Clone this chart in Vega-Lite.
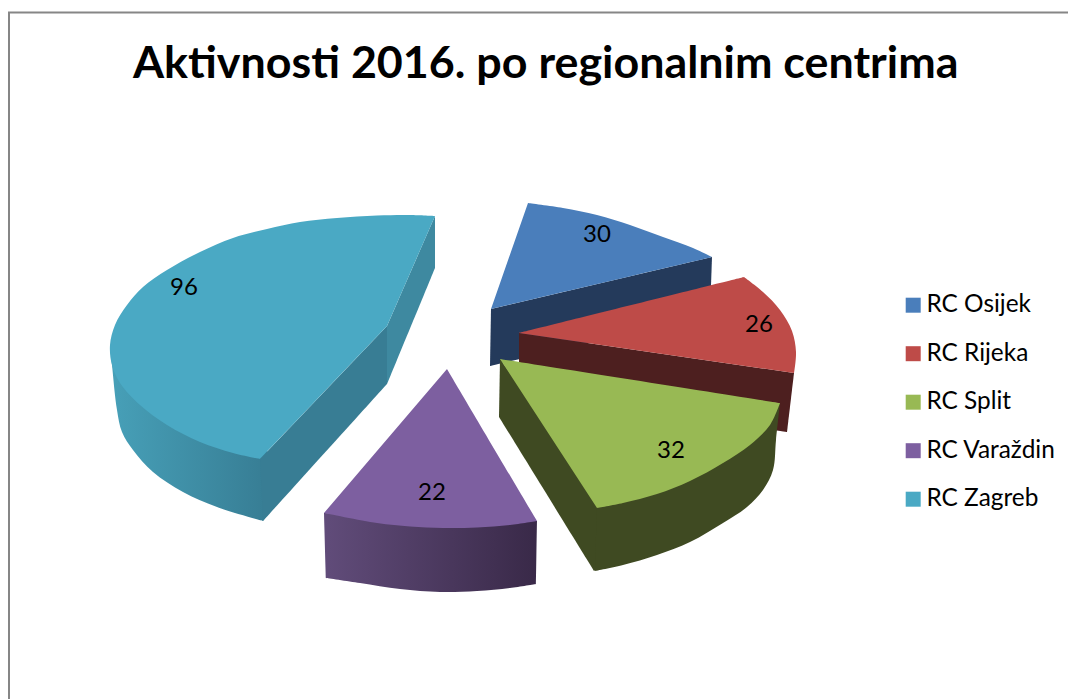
{
"$schema":"https://vega.github.io/schema/vega-lite/v6.json",
"width":1068,"height":699,"padding":0,"autosize":"none","background":"white",
"config":{"view":{"stroke":null}},
"title":{"text":"Aktivnosti 2016. po regionalnim centrima","font":"Lato","fontSize":44.8,"fontWeight":"bold","color":"#000000","anchor":"start","dx":133,"offset":-123,"baseline":"alphabetic"},
"datasets":{
"border":[{"i":0,"x":9,"y":699},{"i":1,"x":9,"y":12.5},{"i":2,"x":1068,"y":12.5}],
"slices":[
{"region":"RC Osijek","value":30,"lx":597,"ly":233},
{"region":"RC Rijeka","value":26,"lx":759,"ly":323},
{"region":"RC Split","value":32,"lx":671,"ly":449},
{"region":"RC Varaždin","value":22,"lx":432,"ly":491},
{"region":"RC Zagreb","value":96,"lx":184,"ly":286}],
"outline":[
{"part":"Zagreb rim","i":0,"x":110,"y":345},{"part":"Zagreb rim","i":1,"x":112,"y":365},{"part":"Zagreb rim","i":2,"x":117,"y":410},{"part":"Zagreb rim","i":3,"x":122,"y":432},{"part":"Zagreb rim","i":4,"x":133,"y":450},{"part":"Zagreb rim","i":5,"x":153,"y":472},{"part":"Zagreb rim","i":6,"x":183,"y":492},{"part":"Zagreb rim","i":7,"x":217,"y":507},{"part":"Zagreb rim","i":8,"x":263,"y":521},{"part":"Zagreb rim","i":9,"x":263,"y":521},{"part":"Zagreb rim","i":10,"x":268,"y":514},{"part":"Zagreb rim","i":11,"x":268,"y":514},{"part":"Zagreb rim","i":12,"x":268,"y":452},
{"part":"Varaždin rim","i":0,"x":324,"y":513},{"part":"Varaždin rim","i":1,"x":326,"y":578},{"part":"Varaždin rim","i":2,"x":326,"y":578},{"part":"Varaždin rim","i":3,"x":360,"y":583},{"part":"Varaždin rim","i":4,"x":400,"y":589},{"part":"Varaždin rim","i":5,"x":440,"y":592},{"part":"Varaždin rim","i":6,"x":477,"y":591},{"part":"Varaždin rim","i":7,"x":510,"y":588},{"part":"Varaždin rim","i":8,"x":536,"y":584},{"part":"Varaždin rim","i":9,"x":536,"y":584},{"part":"Varaždin rim","i":10,"x":537,"y":521},
{"part":"Zagreb cut A","i":0,"x":435,"y":216},{"part":"Zagreb cut A","i":1,"x":435,"y":268},{"part":"Zagreb cut A","i":2,"x":435,"y":268},{"part":"Zagreb cut A","i":3,"x":387,"y":384},{"part":"Zagreb cut A","i":4,"x":387,"y":384},{"part":"Zagreb cut A","i":5,"x":387,"y":326},
{"part":"Zagreb cut B","i":0,"x":387,"y":326},{"part":"Zagreb cut B","i":1,"x":387,"y":384},{"part":"Zagreb cut B","i":2,"x":387,"y":384},{"part":"Zagreb cut B","i":3,"x":263,"y":521},{"part":"Zagreb cut B","i":4,"x":263,"y":521},{"part":"Zagreb cut B","i":5,"x":260,"y":459},
{"part":"RC Zagreb","i":0,"x":435,"y":216},{"part":"RC Zagreb","i":1,"x":410,"y":215},{"part":"RC Zagreb","i":2,"x":377,"y":215.5},{"part":"RC Zagreb","i":3,"x":337,"y":218},{"part":"RC Zagreb","i":4,"x":300,"y":222},{"part":"RC Zagreb","i":5,"x":267,"y":229},{"part":"RC Zagreb","i":6,"x":233,"y":238},{"part":"RC Zagreb","i":7,"x":200,"y":252},{"part":"RC Zagreb","i":8,"x":167,"y":270},{"part":"RC Zagreb","i":9,"x":143,"y":287},{"part":"RC Zagreb","i":10,"x":127,"y":305},{"part":"RC Zagreb","i":11,"x":115,"y":325},{"part":"RC Zagreb","i":12,"x":110,"y":345},{"part":"RC Zagreb","i":13,"x":112,"y":365},{"part":"RC Zagreb","i":14,"x":120,"y":383},{"part":"RC Zagreb","i":15,"x":140,"y":405},{"part":"RC Zagreb","i":16,"x":167,"y":425},{"part":"RC Zagreb","i":17,"x":200,"y":442},{"part":"RC Zagreb","i":18,"x":233,"y":453},{"part":"RC Zagreb","i":19,"x":260,"y":459},{"part":"RC Zagreb","i":20,"x":260,"y":459},{"part":"RC Zagreb","i":21,"x":387,"y":326},
{"part":"RC Varaždin","i":0,"x":447,"y":369},{"part":"RC Varaždin","i":1,"x":537,"y":521},{"part":"RC Varaždin","i":2,"x":537,"y":521},{"part":"RC Varaždin","i":3,"x":510,"y":525},{"part":"RC Varaždin","i":4,"x":477,"y":527.5},{"part":"RC Varaždin","i":5,"x":443,"y":528},{"part":"RC Varaždin","i":6,"x":410,"y":526.5},{"part":"RC Varaždin","i":7,"x":377,"y":523},{"part":"RC Varaždin","i":8,"x":324,"y":513},
{"part":"Osijek cut","i":0,"x":491,"y":309},{"part":"Osijek cut","i":1,"x":490,"y":366},{"part":"Osijek cut","i":2,"x":490,"y":366},{"part":"Osijek cut","i":3,"x":710,"y":314},{"part":"Osijek cut","i":4,"x":710,"y":314},{"part":"Osijek cut","i":5,"x":712,"y":257},
{"part":"RC Osijek","i":0,"x":528,"y":203},{"part":"RC Osijek","i":1,"x":563,"y":208},{"part":"RC Osijek","i":2,"x":597,"y":215},{"part":"RC Osijek","i":3,"x":630,"y":225},{"part":"RC Osijek","i":4,"x":663,"y":237},{"part":"RC Osijek","i":5,"x":693,"y":248},{"part":"RC Osijek","i":6,"x":712,"y":257},{"part":"RC Osijek","i":7,"x":712,"y":257},{"part":"RC Osijek","i":8,"x":491,"y":309},
{"part":"Rijeka cut","i":0,"x":519,"y":333},{"part":"Rijeka cut","i":1,"x":519,"y":395},{"part":"Rijeka cut","i":2,"x":519,"y":395},{"part":"Rijeka cut","i":3,"x":787,"y":432},{"part":"Rijeka cut","i":4,"x":787,"y":432},{"part":"Rijeka cut","i":5,"x":794,"y":373},
{"part":"RC Rijeka","i":0,"x":519,"y":333},{"part":"RC Rijeka","i":1,"x":744,"y":277},{"part":"RC Rijeka","i":2,"x":744,"y":277},{"part":"RC Rijeka","i":3,"x":763,"y":292},{"part":"RC Rijeka","i":4,"x":780,"y":310},{"part":"RC Rijeka","i":5,"x":792,"y":331},{"part":"RC Rijeka","i":6,"x":796,"y":352},{"part":"RC Rijeka","i":7,"x":794,"y":373},
{"part":"Split cut","i":0,"x":500,"y":359},{"part":"Split cut","i":1,"x":499,"y":417},{"part":"Split cut","i":2,"x":499,"y":417},{"part":"Split cut","i":3,"x":594,"y":571},{"part":"Split cut","i":4,"x":594,"y":571},{"part":"Split cut","i":5,"x":602,"y":565},{"part":"Split cut","i":6,"x":602,"y":565},{"part":"Split cut","i":7,"x":602,"y":500},
{"part":"Split rim","i":0,"x":597,"y":508},{"part":"Split rim","i":1,"x":595,"y":571},{"part":"Split rim","i":2,"x":595,"y":571},{"part":"Split rim","i":3,"x":623,"y":565},{"part":"Split rim","i":4,"x":657,"y":555},{"part":"Split rim","i":5,"x":690,"y":542},{"part":"Split rim","i":6,"x":723,"y":523},{"part":"Split rim","i":7,"x":747,"y":507},{"part":"Split rim","i":8,"x":763,"y":490},{"part":"Split rim","i":9,"x":773,"y":470},{"part":"Split rim","i":10,"x":776,"y":440},{"part":"Split rim","i":11,"x":780,"y":403},
{"part":"RC Split","i":0,"x":500,"y":359},{"part":"RC Split","i":1,"x":780,"y":403},{"part":"RC Split","i":2,"x":780,"y":403},{"part":"RC Split","i":3,"x":770,"y":425},{"part":"RC Split","i":4,"x":750,"y":445},{"part":"RC Split","i":5,"x":723,"y":463},{"part":"RC Split","i":6,"x":690,"y":481},{"part":"RC Split","i":7,"x":657,"y":494},{"part":"RC Split","i":8,"x":623,"y":503},{"part":"RC Split","i":9,"x":597,"y":508}
]},
"layer":[
{"data":{"name":"border"},
"mark":{"type":"line","stroke":"#868686","strokeWidth":2,"clip":false},
"encoding":{"x":{"field":"x","type":"quantitative","scale":{"domain":[0,1068],"nice":false,"zero":false},"axis":null},"y":{"field":"y","type":"quantitative","scale":{"domain":[699,0],"nice":false,"zero":false},"axis":null},"order":{"field":"i"}}},
{"data":{"name":"outline"},"transform":[{"filter":"datum.part==='Zagreb rim'"}],
"mark":{"type":"line","filled":true,"interpolate":"catmull-rom","strokeWidth":0,"fill":{"gradient":"linear","x1":0,"x2":1,"y1":0,"y2":0,"stops":[{"offset":0,"color":"#47a0b8"},{"offset":1,"color":"#377d94"}]}},
"encoding":{"x":{"field":"x","type":"quantitative","axis":null},"y":{"field":"y","type":"quantitative","axis":null},"order":{"field":"i"}}},
{"data":{"name":"outline"},"transform":[{"filter":"datum.part==='Varaždin rim'"}],
"mark":{"type":"line","filled":true,"interpolate":"catmull-rom","strokeWidth":0,"fill":{"gradient":"linear","x1":0,"x2":1,"y1":0,"y2":0,"stops":[{"offset":0,"color":"#614c7a"},{"offset":1,"color":"#392948"}]}},
"encoding":{"x":{"field":"x","type":"quantitative","axis":null},"y":{"field":"y","type":"quantitative","axis":null},"order":{"field":"i"}}},
{"data":{"name":"outline"},"transform":[{"filter":"datum.part!=='Zagreb rim'&&datum.part!=='Varaždin rim'"}],
"mark":{"type":"line","filled":true,"interpolate":"catmull-rom","strokeWidth":0},
"encoding":{"x":{"field":"x","type":"quantitative","axis":null},"y":{"field":"y","type":"quantitative","axis":null},"order":{"field":"i"},"detail":{"field":"part"},
"fill":{"field":"part","type":"nominal","sort":null,
"scale":{"domain":["RC Osijek","RC Rijeka","RC Split","RC Varaždin","RC Zagreb","Osijek cut","Rijeka cut","Split cut","Split rim","Zagreb cut A","Zagreb cut B"],
"range":["#4a7ebb","#be4b48","#98b954","#7d5fa0","#4aa9c4","#243a5b","#4d1f1f","#3f4a22","#3f4a22","#3e89a0","#387d94"]},
"legend":{"title":null,"orient":"none","legendX":901,"legendY":293,"values":["RC Osijek","RC Rijeka","RC Split","RC Varaždin","RC Zagreb"],"symbolType":"square","symbolSize":225,"symbolStrokeWidth":0,"labelFont":"Lato","labelFontSize":24.4,"labelColor":"#000000","labelOffset":1,"rowPadding":23.5,"labelLimit":200}}}},
{"data":{"name":"slices"},
"mark":{"type":"text","font":"Lato","fontSize":24,"color":"#000000","align":"center","baseline":"middle","dy":2},
"encoding":{"x":{"field":"lx","type":"quantitative","axis":null},"y":{"field":"ly","type":"quantitative","axis":null},"text":{"field":"value","type":"quantitative"}}}
]
}
